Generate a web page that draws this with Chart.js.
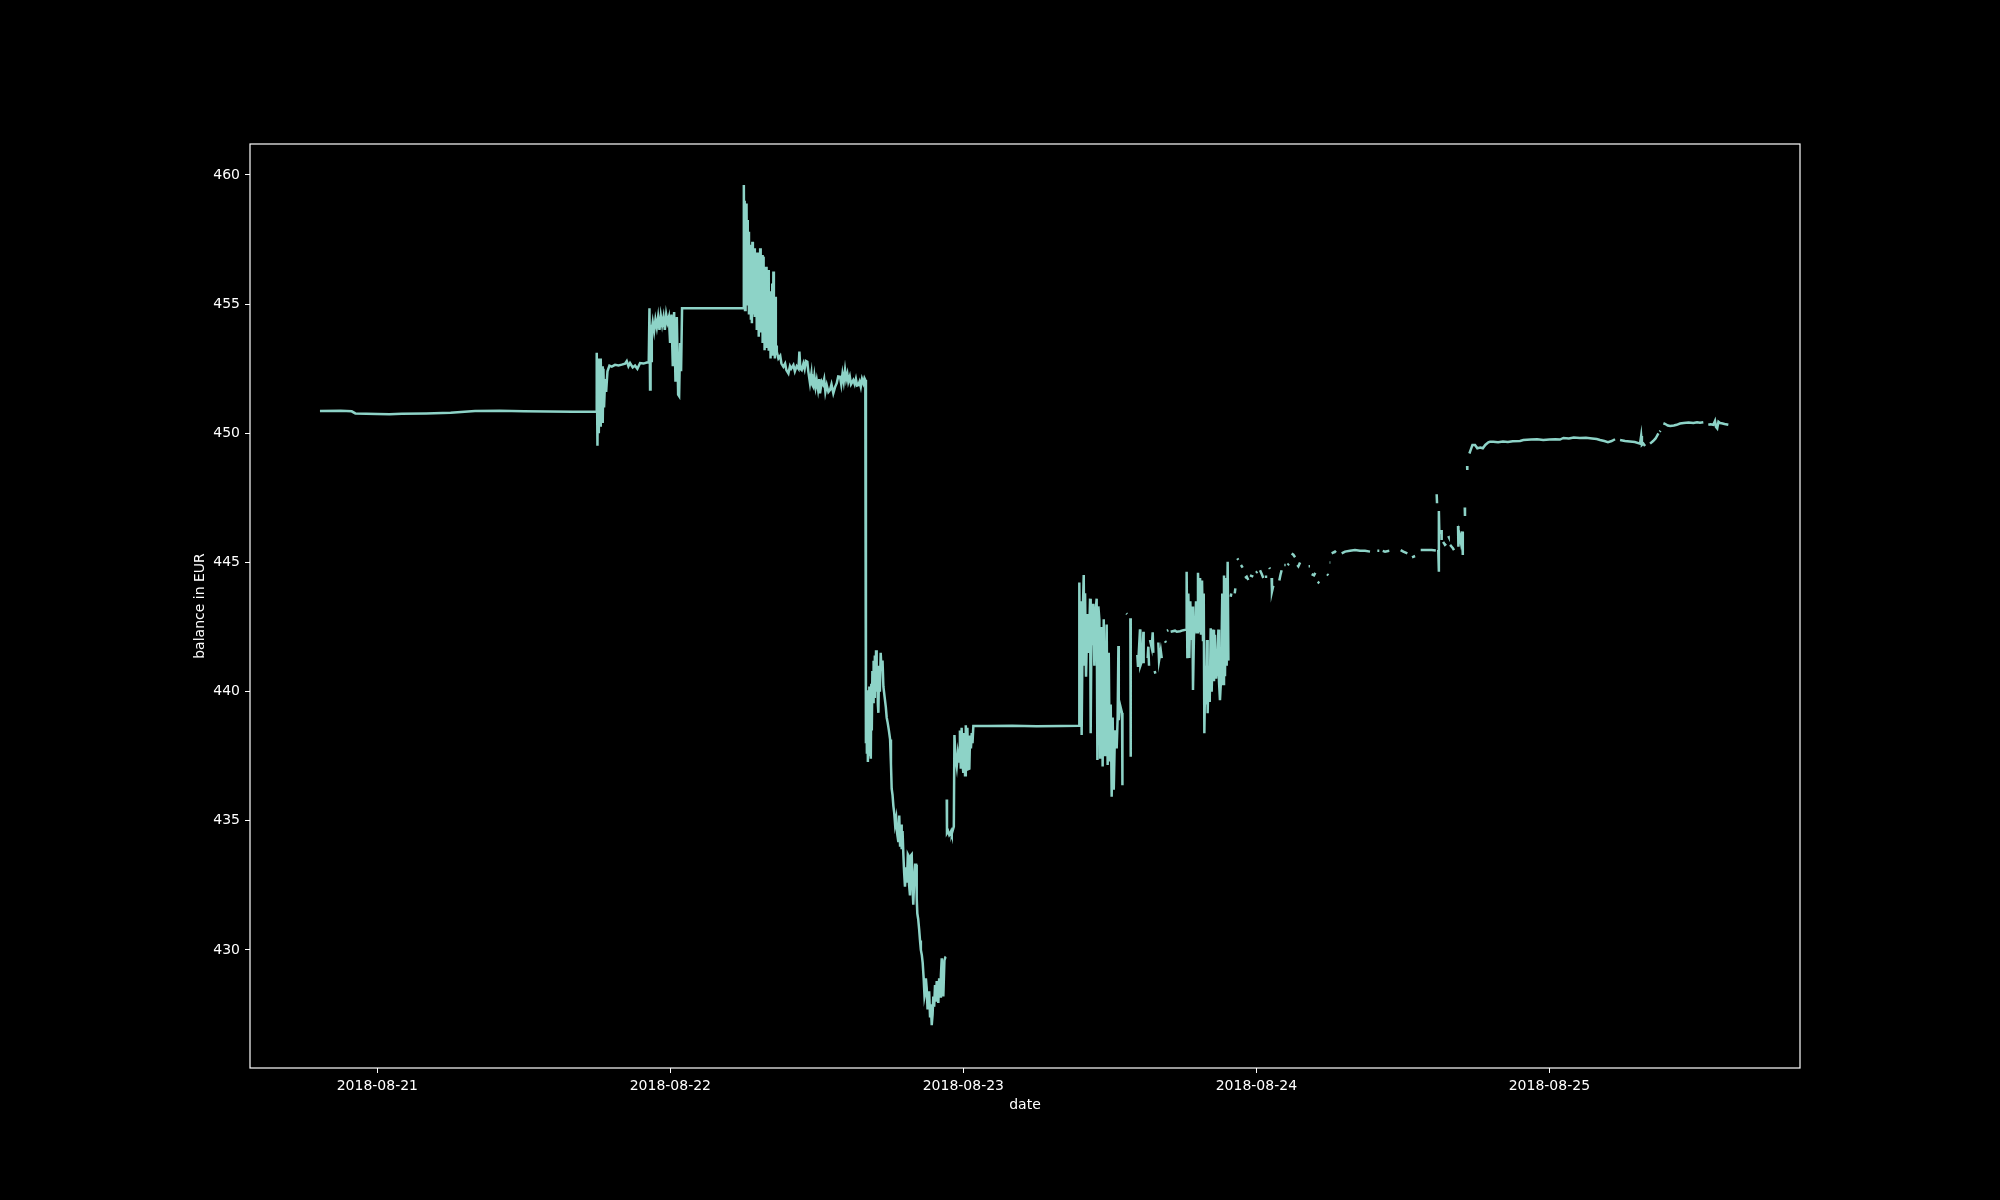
<!DOCTYPE html>
<html><head><meta charset="utf-8">
<script src="https://cdn.jsdelivr.net/npm/chart.js@4.4.1/dist/chart.umd.min.js"></script>
<style>html,body{margin:0;padding:0;background:#000;}canvas{display:block;}</style>
</head><body>
<canvas id="c" width="2000" height="1200"></canvas>
<script>
// x values are hours since 2018-08-21 00:00; null = gap in the recorded series
const xTickHours = [0, 24, 48, 72, 96];
const xTickLabels = ['2018-08-21', '2018-08-22', '2018-08-23', '2018-08-24', '2018-08-25'];
const yTicks = [430, 435, 440, 445, 450, 455, 460];

const calm = [[-4.70,450.86],[-3.0,450.87],[-2.1,450.85],[-1.8,450.77],[0.0,450.75],[1.0,450.74],[2.0,450.76],[4.0,450.77],[6.0,450.80],[8.0,450.86],[10.0,450.87],[12.0,450.85],[14.0,450.84],[16.0,450.83],[17.92,450.83]];

const rise = [[17.97,453.12],[18.03,449.52],[18.08,452.9],[18.14,450.0],[18.19,452.8],[18.25,450.3],[18.30,452.9],[18.36,450.5],[18.41,452.6],[18.46,450.4],[18.52,452.5],[18.57,451.0],[18.66,452.1],[18.74,451.6],[18.85,452.4],[19.01,452.62],[19.20,452.58],[19.47,452.65],[19.75,452.63],[20.02,452.66],[20.29,452.70],[20.43,452.80],[20.57,452.60],[20.70,452.72],[20.92,452.55],[21.11,452.62],[21.30,452.50],[21.52,452.72],[21.80,452.70],[22.07,452.74],[22.23,452.74],[22.29,454.84],[22.34,451.70],[22.38,454.2],[22.42,452.8],[22.48,454.0],[22.56,454.3],[22.67,453.95],[22.78,454.4],[22.89,454.1],[23.00,454.5],[23.11,454.0],[23.22,454.55],[23.33,454.2],[23.44,454.5],[23.55,454.0],[23.66,454.6],[23.77,454.3],[23.88,454.5],[23.98,453.5],[24.09,454.6],[24.20,452.6],[24.31,454.7],[24.42,452.0],[24.53,454.5],[24.64,451.5],[24.72,451.44],[24.80,453.5],[24.88,452.4],[24.96,454.84],[27.0,454.84],[29.98,454.84]];

const peak = [[30.02,459.61],[30.06,455.3],[30.09,459.0],[30.12,454.77],[30.16,458.6],[30.20,455.8],[30.24,458.9],[30.28,455.0],[30.32,458.26],[30.36,455.2],[30.40,457.8],[30.44,454.6],[30.48,456.9],[30.52,455.5],[30.56,456.97],[30.60,454.4],[30.64,457.3],[30.68,454.26],[30.72,457.42],[30.76,455.0],[30.80,457.0],[30.84,454.6],[30.88,457.16],[30.92,454.5],[30.96,456.5],[31.00,455.2],[31.04,457.0],[31.08,454.0],[31.12,456.8],[31.16,454.4],[31.20,456.5],[31.24,453.74],[31.28,457.0],[31.32,454.2],[31.36,457.16],[31.40,453.9],[31.44,456.6],[31.48,454.5],[31.52,456.9],[31.56,453.5],[31.60,456.84],[31.64,453.8],[31.68,456.3],[31.72,453.22],[31.76,456.0],[31.80,453.6],[31.84,456.45],[31.88,453.3],[31.92,455.6],[31.96,453.9],[32.00,456.32],[32.04,453.2],[32.08,455.0],[32.12,453.5],[32.17,455.5],[32.21,452.9],[32.26,455.1],[32.30,453.4],[32.35,455.8],[32.40,453.0],[32.44,456.26],[32.48,453.1],[32.52,455.0],[32.56,452.90],[32.60,455.29],[32.64,453.2],[32.68,453.4],[32.72,453.16],[32.85,452.9],[33.0,453.0],[33.1,452.7],[33.26,452.58],[33.4,452.7],[33.5,452.45],[33.67,452.32],[33.8,452.6],[33.9,452.5],[34.08,452.64],[34.2,452.4],[34.35,452.6],[34.5,452.5],[34.57,453.16],[34.65,452.5],[34.76,452.45],[34.9,452.7],[35.0,452.5],[35.1,452.8],[35.22,452.77],[35.3,452.4],[35.44,451.94],[35.55,452.3],[35.6,451.9],[35.71,451.80],[35.8,452.2],[35.9,451.8],[35.99,452.06],[36.1,451.7],[36.2,452.1],[36.26,451.55],[36.4,452.0],[36.5,451.9],[36.6,452.1],[36.7,451.6],[36.81,451.87],[36.95,451.6],[37.08,451.68],[37.2,451.9],[37.35,451.55],[37.5,451.8],[37.63,451.94],[37.75,452.2],[37.90,452.19],[38.0,451.9],[38.1,452.3],[38.2,452.0],[38.31,452.45],[38.4,452.1],[38.5,452.3],[38.58,452.00],[38.7,452.2],[38.8,451.9],[38.99,452.06],[39.1,451.9],[39.2,452.1],[39.3,451.85],[39.40,451.87],[39.5,452.0],[39.6,451.8],[39.7,452.1],[39.81,451.94],[39.9,452.13],[39.97,452.06]];

const crash = [[40.02,438.0],[40.06,440.0],[40.10,437.6],[40.14,439.8],[40.18,437.28],[40.22,440.05],[40.26,437.5],[40.30,440.2],[40.34,438.0],[40.38,439.7],[40.42,437.4],[40.46,440.3],[40.50,438.5],[40.55,440.8],[40.60,439.6],[40.65,441.2],[40.70,439.8],[40.75,441.4],[40.80,440.2],[40.85,441.6],[40.90,440.0],[40.95,441.0],[41.00,439.5],[41.04,439.18],[41.10,441.0],[41.16,440.0],[41.23,441.5],[41.30,440.8],[41.38,441.2],[41.45,440.2],[41.55,439.8],[41.65,439.4],[41.72,439.0],[41.80,438.8],[41.90,438.5],[42.00,438.15],[42.07,437.2],[42.13,436.24],[42.20,436.0],[42.27,435.57],[42.34,435.3],[42.41,434.86],[42.50,435.1],[42.58,434.5],[42.68,434.18],[42.75,435.2],[42.82,434.0],[42.90,434.86],[42.95,433.9],[43.02,434.6],[43.09,433.66],[43.15,433.0],[43.22,432.45],[43.30,433.2],[43.38,432.6],[43.45,433.7],[43.49,433.66],[43.56,432.5],[43.63,432.11],[43.70,433.66],[43.77,433.7],[43.84,432.4],[43.90,431.75],[43.98,432.8],[44.05,433.3],[44.13,433.3],[44.18,432.0],[44.23,431.41],[44.30,431.2],[44.38,430.8],[44.45,430.37],[44.52,430.0],[44.60,429.8],[44.67,429.5],[44.75,428.9],[44.82,428.2],[44.86,428.30],[44.93,428.9],[45.00,428.5],[45.07,427.7],[45.13,427.95],[45.20,428.4],[45.27,427.43],[45.34,427.9],[45.41,427.09],[45.48,427.5],[45.54,428.2],[45.61,427.8],[45.68,428.64],[45.75,428.0],[45.82,428.8],[45.88,428.3],[45.95,427.95],[46.02,428.9],[46.09,428.2],[46.16,429.0],[46.23,429.68],[46.30,428.8],[46.36,428.2],[46.45,429.6],[46.52,429.7],[46.58,429.68],null,
[46.64,435.82],[46.66,434.53],[46.75,434.6],[46.85,434.45],[46.91,434.49],[47.0,434.6],[47.05,434.5],[47.22,434.78],[47.27,438.32],[47.35,437.5],[47.46,437.11],[47.55,437.63],[47.65,437.3],[47.72,438.5],[47.79,437.02],[47.86,438.6],[47.93,437.2],[48.00,436.85],[48.07,438.4],[48.14,436.76],[48.20,438.7],[48.27,437.5],[48.33,438.6],[48.40,437.0],[48.49,437.02],[48.55,438.3],[48.62,437.8],[48.69,438.4],[48.75,438.0],[48.82,438.67],[50.0,438.67],[52.0,438.68],[54.0,438.66],[56.0,438.67],[57.48,438.68]];

const volatile = [[57.50,444.22],[57.56,440.19],[57.61,443.5],[57.69,438.32],[57.78,443.0],[57.86,444.51],[57.91,441.0],[57.97,443.81],[58.05,440.58],[58.16,443.0],[58.27,441.5],[58.38,443.6],[58.43,438.39],[58.51,443.4],[58.60,441.8],[58.65,443.4],[58.73,441.0],[58.81,443.0],[58.92,443.6],[58.98,437.35],[59.06,443.3],[59.14,442.8],[59.20,437.4],[59.31,442.5],[59.41,437.1],[59.50,442.8],[59.61,437.5],[59.74,442.6],[59.82,437.16],[59.91,441.5],[59.99,437.3],[60.07,439.5],[60.15,435.93],[60.23,439.0],[60.32,436.2],[60.42,438.5],[60.56,437.8],[60.64,439.0],[60.70,441.77],[60.73,438.9],[60.83,439.5],[61.00,439.17],[61.03,436.38],null,
[61.35,443.03],[61.41,443.0],null,
[61.68,442.84],[61.71,437.48],null,
[62.25,441.42],[62.31,440.96],[62.47,442.41],[62.50,441.0],[62.64,441.2],[62.75,442.32],[62.77,441.1],null,
[63.10,441.3],[63.15,441.74],[63.21,441.0],null,
[63.29,442.0],[63.43,441.7],[63.51,442.3],[63.56,441.5],null,
[63.67,440.8],[63.73,440.7],null,
[63.97,441.9],[64.03,441.2],[64.17,441.6],[64.25,441.3],null,
[64.52,441.96],[64.60,441.9],null,
[64.68,442.35],[64.79,442.38],null,
[64.98,442.32],[65.34,442.36],[65.48,442.32],[65.75,442.34],[66.02,442.38],[66.24,442.40],[66.29,444.64],[66.35,441.29],[66.43,443.8],[66.51,441.3],[66.59,443.5],[66.68,442.0],[66.76,443.3],[66.81,440.06],[66.89,442.2],[66.98,442.4],[67.06,443.5],[67.14,442.3],[67.22,444.6],[67.31,442.3],[67.39,444.4],[67.47,442.2],[67.55,444.3],[67.63,442.0],[67.69,443.8],[67.74,438.39],[67.82,441.0],[67.88,439.5],[67.96,442.0],[68.01,439.16],[68.10,441.0],[68.18,439.6],[68.26,442.45],[68.34,440.0],[68.45,442.4],[68.53,440.4],[68.61,442.2],[68.70,440.5],[68.81,441.0],[68.89,442.4],[68.94,440.4],[69.02,439.67],[69.11,440.5],[69.21,443.8],[69.27,440.3],[69.35,444.5],[69.43,440.6],[69.52,444.4],[69.57,441.0],[69.65,445.03],[69.71,441.2],null,
[69.90,443.67],[69.95,443.8],null,
[70.23,443.8],[70.28,444.0],null];

const sparse = [[70.44,445.16],[70.52,445.1],null,
[70.74,444.9],[70.88,444.8],null,
[71.07,444.4],[71.21,444.45],[71.34,444.32],null,
[71.48,444.5],[71.75,444.45],null,
[71.97,444.6],[72.08,444.65],null,
[72.30,444.7],[72.44,444.55],[72.57,444.4],null,
[72.71,444.45],[72.79,444.5],null,
[73.06,444.8],[73.12,444.75],null,
[73.25,444.4],[73.28,443.87],[73.39,444.1],null,
[73.88,444.3],[73.99,444.55],[74.07,444.7],null,
[74.29,444.9],[74.40,444.9],null,
[74.56,444.9],[74.67,444.95],null,
[74.89,445.35],[75.03,445.3],[75.17,445.2],null,
[75.36,444.9],[75.44,444.85],[75.58,445.0],null,
[76.28,444.85],[76.39,444.85],null,
[76.53,444.55],[76.72,444.5],[76.83,444.6],null,
[77.02,444.25],[77.16,444.2],null,
[77.79,444.55],[77.90,444.5],null,
[78.00,445.0],[78.06,445.0],null,
[78.17,445.35],[78.44,445.42],[78.52,445.38],null,
[78.99,445.35],[79.26,445.42],[79.67,445.45],[80.08,445.48],[80.49,445.45],[80.90,445.45],[81.31,445.42],null,
[81.91,445.45],[82.07,445.45],null,
[82.35,445.45],[82.54,445.42],[82.89,445.45],null,
[83.82,445.48],[84.04,445.42],[84.37,445.35],null,
[84.75,445.2],[85.00,445.25],null,
[85.46,445.48],[85.95,445.48],[86.36,445.48],[86.70,445.46],null];

const recovery = [[86.77,447.64],[86.80,447.29],null,
[86.86,445.48],[86.90,445.48],[86.94,444.64],[86.96,446.99],[86.99,446.1],null,
[87.16,446.26],[87.18,445.87],null,
[87.30,445.80],[87.45,445.68],[87.55,445.72],null,
[87.73,446.02],[87.75,446.00],null,
[87.87,445.68],[88.00,445.61],[88.10,445.55],[88.19,445.48],null,
[88.52,446.41],[88.55,445.61],[88.62,446.13],[88.68,446.00],[88.75,445.8],[88.85,446.2],[88.90,445.29],[88.92,446.1],null,
[89.07,447.13],[89.09,446.80],null,
[89.26,448.73],[89.28,448.58],null,
[89.45,449.22],[89.55,449.35],[89.70,449.55],[89.91,449.55],[90.10,449.42],[90.35,449.45],[90.55,449.42],[90.75,449.55],[91.00,449.65],[91.14,449.67],[91.41,449.67],[91.8,449.65],[92.2,449.68],[92.6,449.66],[93.0,449.69],[93.6,449.70],[93.87,449.74],[94.5,449.76],[95.0,449.77],[95.5,449.74],[96.0,449.76],[96.5,449.77],[96.87,449.76],[97.15,449.82],[97.6,449.80],[98.0,449.84],[98.5,449.82],[99.0,449.83],[99.5,449.80],[99.88,449.78],[100.15,449.74],[100.5,449.70],[100.8,449.66],[101.1,449.70],[101.38,449.77],null,
[101.79,449.74],[102.2,449.70],[102.6,449.68],[103.0,449.66],[103.43,449.60],[103.52,449.90],[103.58,449.55],[103.70,449.60],[103.84,449.51],null,
[104.25,449.60],[104.5,449.70],[104.7,449.80],[104.93,450.0],null,
[105.04,450.06],[105.10,450.10],null,
[105.34,450.39],[105.5,450.36],[105.7,450.30],[105.9,450.28],[106.2,450.30],[106.43,450.33],[106.70,450.38],[107.0,450.40],[107.4,450.42],[107.8,450.40],[108.1,450.43],[108.34,450.41],[108.61,450.43],null,
[109.02,450.33],[109.2,450.35],[109.43,450.33],[109.57,450.48],[109.65,450.25],[109.75,450.19],[109.85,450.45],[109.98,450.40],[110.11,450.39],[110.35,450.36],[110.66,450.33]];

const phases = [calm, rise, peak, crash, volatile, sparse, recovery];
const points = [];
let lastX = 0;
for (const ph of phases) {
  for (const p of ph) {
    if (p === null) points.push({x: lastX, y: null});
    else { points.push({x: p[0], y: p[1]}); lastX = p[0]; }
  }
}

const FONT = {family: 'DejaVu Sans', size: 14};
const frame = {
  id: 'frame',
  beforeDraw(chart) {
    const c = chart.ctx;
    c.save(); c.fillStyle = '#000'; c.fillRect(0, 0, chart.width, chart.height); c.restore();
  },
  afterDraw(chart) {
    const c = chart.ctx, a = chart.chartArea;
    c.save(); c.strokeStyle = '#fff'; c.lineWidth = 1.2;
    c.strokeRect(a.left, a.top, a.right - a.left, a.bottom - a.top);
    c.restore();
  }
};

new Chart(document.getElementById('c'), {
  type: 'line',
  data: {
    datasets: [{
      data: points,
      borderColor: '#8dd3c7',
      borderWidth: 2.5,
      pointRadius: 0,
      tension: 0,
      spanGaps: false,
      fill: false
    }]
  },
  options: {
    responsive: false,
    devicePixelRatio: 1,
    animation: false,
    parsing: true,
    layout: {padding: {left: 192, right: 200, top: 144, bottom: 86}},
    plugins: {legend: {display: false}, tooltip: {enabled: false}},
    scales: {
      x: {
        type: 'linear',
        min: -10.43,
        max: 116.53,
        afterBuildTicks: ax => { ax.ticks = xTickHours.map(v => ({value: v})); },
        afterFit: ax => { ax.height = 46; },
        ticks: {
          color: '#fff', font: FONT, padding: 5, maxRotation: 0, autoSkip: false,
          callback: v => { const i = xTickHours.indexOf(v); return i >= 0 ? xTickLabels[i] : ''; }
        },
        grid: {display: true, drawOnChartArea: false, drawTicks: true, tickLength: 5, color: '#fff', tickColor: '#fff'},
        border: {display: false},
        title: {display: true, text: 'date', color: '#fff', font: FONT, padding: {top: 0, bottom: 0}}
      },
      y: {
        type: 'linear',
        min: 425.43,
        max: 461.2,
        afterBuildTicks: ax => { ax.ticks = yTicks.map(v => ({value: v})); },
        afterFit: ax => { ax.width = 58; },
        ticks: {color: '#fff', font: FONT, padding: 5},
        grid: {display: true, drawOnChartArea: false, drawTicks: true, tickLength: 5, color: '#fff', tickColor: '#fff'},
        border: {display: false},
        title: {display: true, text: 'balance in EUR', color: '#fff', font: FONT, padding: {top: 0, bottom: 0}}
      }
    }
  },
  plugins: [frame]
});
</script>
</body></html>
